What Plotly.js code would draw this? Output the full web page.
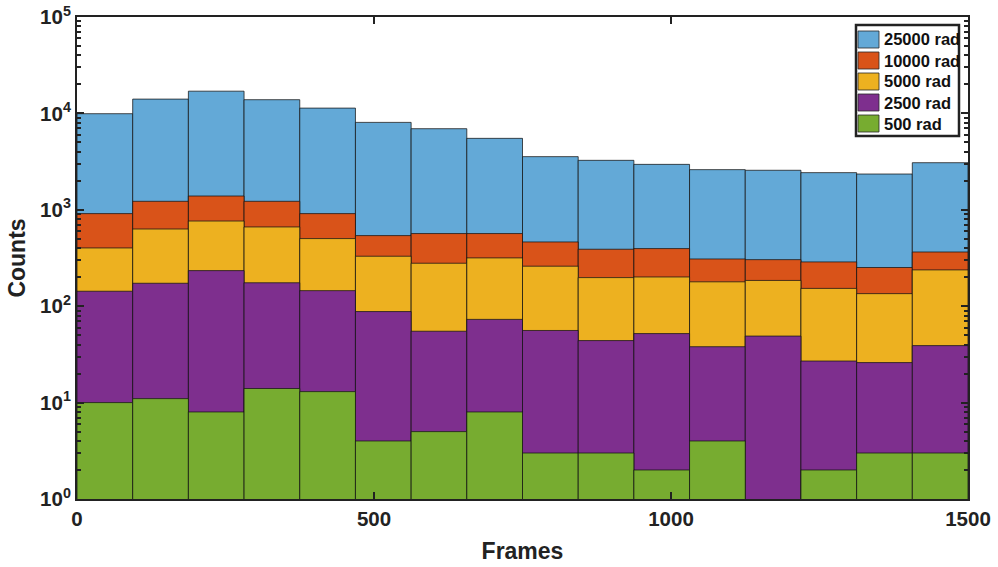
<!DOCTYPE html>
<html>
<head>
<meta charset="utf-8">
<script src="https://cdn.plot.ly/plotly-3.0.1.min.js"></script>
<style>
  html, body { margin: 0; padding: 0; background: #ffffff; }
  #chart { width: 998px; height: 567px; }
</style>
</head>
<body>
<div id="chart"></div>
<script>
// Frame histogram: 16 bins across 0–1500 frames
const binEdges = [0, 93.75, 187.5, 281.25, 375, 468.75, 562.5, 656.25, 750,
                  843.75, 937.5, 1031.25, 1125, 1218.75, 1312.5, 1406.25, 1500];

// Counts per bin for each dose
const dose25000 = [9930, 14070, 17000, 13870, 11350, 8070, 6940, 5510,
                   3560, 3260, 2960, 2610, 2570, 2430, 2350, 3080];
const dose10000 = [913, 1225, 1390, 1225, 913, 540, 567, 567,
                   464, 390, 396, 309, 304, 288, 252, 365];
const dose5000  = [402, 632, 765, 664, 503, 330, 279, 317,
                   260, 198, 201, 179, 185, 153, 135, 238];
const dose2500  = [143, 173, 234, 175, 145, 88, 55, 73,
                   56, 44, 52, 38, 49, 27, 26, 39];
const dose500   = [10, 11, 8, 14, 13, 4, 5, 8,
                   3, 3, 2, 4, 0, 2, 3, 3];

const seriesNames  = ['25000 rad', '10000 rad', '5000 rad', '2500 rad', '500 rad'];
const seriesCounts = [dose25000, dose10000, dose5000, dose2500, dose500];
const seriesColors = ['#63A9D7', '#D95319', '#EDB120', '#7E2F8E', '#77AC30'];

const centers = [], widths = [];
for (let i = 0; i < binEdges.length - 1; i++) {
  centers.push((binEdges[i] + binEdges[i + 1]) / 2);
  widths.push(binEdges[i + 1] - binEdges[i]);
}

const edgeColor = 'rgba(20,20,20,0.75)';

const traces = seriesNames.map((name, k) => ({
  type: 'bar',
  name: name,
  x: centers,
  y: seriesCounts[k],
  width: widths,
  marker: { color: seriesColors[k], line: { color: edgeColor, width: 1 } },
  hoverinfo: 'x+y+name',
  showlegend: false
}));

// Decade ticks labelled as powers of ten, with minor ticks between
const majorVals = [1, 10, 100, 1000, 10000, 100000];
const majorText = majorVals.map((v, i) => '10<sup>' + i + '</sup>');
const minorVals = [];
for (let d = 0; d < 5; d++) {
  for (let m = 2; m <= 9; m++) minorVals.push(m * Math.pow(10, d));
}

const W = 998, H = 567;
const margin = { l: 77, r: 30, t: 17, b: 68 };
const plotW = W - margin.l - margin.r;
const plotH = H - margin.t - margin.b;
const px = x => (x - margin.l) / plotW;          // pixel -> paper x
const py = y => (H - margin.b - y) / plotH;       // pixel -> paper y

const fontFamily = 'Liberation Sans, Arial, sans-serif';
const tickFont = { family: fontFamily, size: 20.5, color: '#222', weight: 'bold' };
const titleFont = { family: fontFamily, size: 23, color: '#222', weight: 'bold' };

// Boxed key in the upper-right corner
const key = { left: 856, right: 959, top: 25, bottom: 136, row0: 39.5, rowStep: 21,
              swL: 858, swR: 879, swH: 17, textX: 882 };
const shapes = [{
  type: 'rect', xref: 'paper', yref: 'paper', layer: 'above',
  x0: px(key.left), x1: px(key.right), y0: py(key.bottom), y1: py(key.top),
  fillcolor: '#ffffff', line: { color: '#222', width: 2.5 }
}];
const annotations = [];
seriesNames.forEach((name, k) => {
  const cy = key.row0 + k * key.rowStep;
  shapes.push({
    type: 'rect', xref: 'paper', yref: 'paper', layer: 'above',
    x0: px(key.swL), x1: px(key.swR), y0: py(cy + key.swH / 2), y1: py(cy - key.swH / 2),
    fillcolor: seriesColors[k], line: { color: 'rgba(40,40,40,0.8)', width: 1 }
  });
  annotations.push({
    xref: 'paper', yref: 'paper', x: px(key.textX), y: py(cy),
    xanchor: 'left', yanchor: 'middle', showarrow: false,
    text: name,
    font: { family: fontFamily, size: 16.5, color: '#111', weight: 'bold' }
  });
});

const layout = {
  width: W,
  height: H,
  margin: margin,
  paper_bgcolor: '#ffffff',
  plot_bgcolor: '#ffffff',
  barmode: 'overlay',
  bargap: 0,
  showlegend: false,
  shapes: shapes,
  annotations: annotations,
  xaxis: {
    range: [0, 1500],
    tickvals: [0, 500, 1000, 1500],
    ticks: 'inside',
    ticklen: 7,
    tickwidth: 2,
    tickcolor: '#222',
    showline: true,
    linecolor: '#222',
    linewidth: 2,
    mirror: 'allticks',
    showgrid: false,
    zeroline: false,
    tickfont: tickFont,
    title: { text: 'Frames', font: titleFont, standoff: 14 }
  },
  yaxis: {
    type: 'log',
    range: [0, 5],
    tickvals: majorVals,
    ticktext: majorText,
    ticks: 'inside',
    ticklen: 7,
    tickwidth: 2,
    tickcolor: '#222',
    minor: {
      tickvals: minorVals,
      ticks: 'inside',
      ticklen: 4,
      tickwidth: 2,
      tickcolor: '#222',
      showgrid: false
    },
    showline: true,
    linecolor: '#222',
    linewidth: 2,
    mirror: 'allticks',
    showgrid: false,
    zeroline: false,
    tickfont: tickFont,
    title: { text: 'Counts', font: titleFont, standoff: 8 }
  }
};

Plotly.newPlot('chart', traces, layout, { displayModeBar: false, staticPlot: true });
</script>
</body>
</html>
